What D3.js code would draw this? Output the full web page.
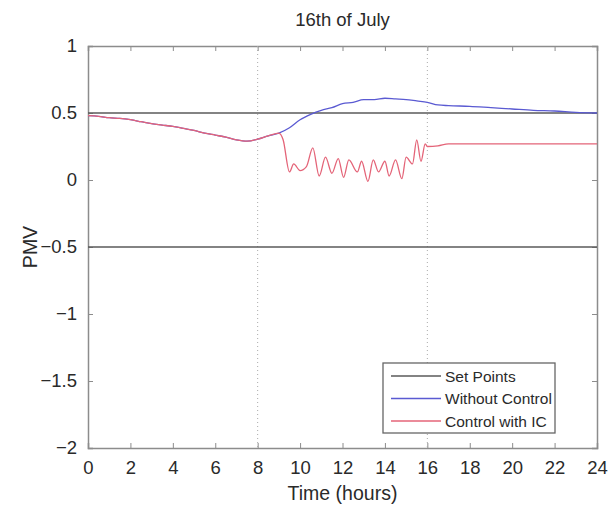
<!DOCTYPE html>
<html lang="en">
<head>
    <meta charset="UTF-8">
    <title>16th of July</title>
    <style>
        body {
            margin: 0;
            background: #fff;
            font-family: "Liberation Sans", Arial, sans-serif;
        }
        .axis text {
            font-size: 18.5px;
            fill: #2a2a2a;
        }
        .axis path, .axis line {
            stroke: #8c8c8c;
        }
    </style>
</head>
<body>
    <div id="chart"></div>
    <script src="https://d3js.org/d3.v7.min.js"></script>
    <script>
        // Control with IC (red)
        const icTime = [0, 0.5, 1, 1.5, 2, 2.5, 3, 3.5, 4, 4.5, 5, 5.5, 6, 6.5, 7, 7.5, 8, 8.5, 9, 9.2,
            9.5, 9.7, 10, 10.3, 10.6, 10.9, 11.2, 11.5, 11.8, 12.05, 12.3, 12.7, 12.9, 13.2, 13.45, 13.7,
            14, 14.2, 14.5, 14.8, 15, 15.3, 15.5, 15.7, 15.9, 16, 16.5, 17, 18, 20, 22, 24];
        const icPmv = [0.48, 0.475, 0.465, 0.46, 0.45, 0.435, 0.42, 0.41, 0.40, 0.385, 0.37, 0.35, 0.335, 0.32, 0.30, 0.29, 0.305, 0.33, 0.35, 0.30,
            0.06, 0.12, 0.07, 0.10, 0.24, 0.03, 0.17, 0.05, 0.16, 0.02, 0.15, 0.06, 0.14, -0.01, 0.15, 0.06,
            0.14, 0.03, 0.15, 0.01, 0.17, 0.12, 0.30, 0.14, 0.27, 0.25, 0.255, 0.27, 0.27, 0.27, 0.27, 0.27];

        // Without Control (blue)
        const ncTime = [0, 0.5, 1, 1.5, 2, 2.5, 3, 3.5, 4, 4.5, 5, 5.5, 6, 6.5, 7, 7.5, 8, 8.5, 9, 9.5,
            10, 10.5, 11, 11.5, 12, 12.5, 13, 13.5, 14, 14.5, 15, 15.5, 16, 16.5, 17, 18, 19, 20, 21, 22, 23, 24];
        const ncPmv = [0.48, 0.475, 0.465, 0.46, 0.45, 0.435, 0.42, 0.41, 0.40, 0.385, 0.37, 0.35, 0.335, 0.32, 0.30, 0.29, 0.305, 0.33, 0.35, 0.39,
            0.45, 0.49, 0.52, 0.54, 0.57, 0.58, 0.60, 0.60, 0.61, 0.605, 0.60, 0.59, 0.58, 0.56, 0.555, 0.55, 0.54, 0.53, 0.52, 0.515, 0.505, 0.50];

        const setPoints = [0.5, -0.5];
        const markHours = [8, 16];
        const xTicks = d3.range(0, 25, 2);
        const yTicks = [-2, -1.5, -1, -0.5, 0, 0.5, 1];
        const legendNames = ["Set Points", "Without Control", "Control with IC"];
        const legendColors = ["#5a5a5a", "#5a5ad2", "#e46478"];

        const width = 608, height = 509;
        const margin = { top: 46, right: 11, bottom: 61, left: 88 };

        const svg = d3.select("#chart").append("svg")
            .attr("width", width)
            .attr("height", height);

        const x = d3.scaleLinear().domain([0, 24]).range([margin.left, width - margin.right]);
        const y = d3.scaleLinear().domain([-2, 1]).range([height - margin.bottom, margin.top]);

        const fmt = d => (d < 0 ? "\u2212" + Math.abs(d) : String(d));

        // axes, ticks pointing inward
        svg.append("g").attr("class", "axis")
            .attr("transform", `translate(0,${y(-2)})`)
            .call(d3.axisBottom(x).tickValues(xTicks).tickSize(-5).tickPadding(13).tickFormat(fmt));
        svg.append("g").attr("class", "axis")
            .attr("transform", `translate(0,${y(1)})`)
            .call(d3.axisTop(x).tickValues(xTicks).tickSize(-5).tickFormat(""));
        svg.append("g").attr("class", "axis")
            .attr("transform", `translate(${x(0)},0)`)
            .call(d3.axisLeft(y).tickValues(yTicks).tickSize(-5).tickPadding(11).tickFormat(fmt));
        svg.append("g").attr("class", "axis")
            .attr("transform", `translate(${x(24)},0)`)
            .call(d3.axisRight(y).tickValues(yTicks).tickSize(-5).tickFormat(""));
        svg.selectAll(".axis .domain").attr("stroke-width", 1.5);

        // dotted markers at 8h and 16h
        svg.selectAll(".mark").data(markHours).enter().append("line")
            .attr("x1", d => x(d)).attr("x2", d => x(d))
            .attr("y1", y(1)).attr("y2", y(-2))
            .attr("stroke", "#aaa").attr("stroke-dasharray", "1,3");

        // set points
        svg.selectAll(".sp").data(setPoints).enter().append("line")
            .attr("x1", x(0)).attr("x2", x(24))
            .attr("y1", d => y(d)).attr("y2", d => y(d))
            .attr("stroke", legendColors[0]).attr("stroke-width", 1.3);

        const line = d3.line().x(d => x(d[0])).y(d => y(d[1])).curve(d3.curveMonotoneX);

        svg.append("path")
            .datum(d3.zip(ncTime, ncPmv))
            .attr("fill", "none").attr("stroke", legendColors[1]).attr("stroke-width", 1.3)
            .attr("d", line);
        svg.append("path")
            .datum(d3.zip(icTime, icPmv))
            .attr("fill", "none").attr("stroke", legendColors[2]).attr("stroke-width", 1.3)
            .attr("d", line);

        // title and axis labels
        svg.append("text").attr("x", x(12)).attr("y", 26)
            .attr("text-anchor", "middle").attr("font-size", 18.5).attr("fill", "#2a2a2a")
            .text("16th of July");
        svg.append("text").attr("x", x(12)).attr("y", 500)
            .attr("text-anchor", "middle").attr("font-size", 19.5).attr("fill", "#2a2a2a")
            .text("Time (hours)");
        svg.append("text")
            .attr("transform", `translate(37,${y(-0.5)}) rotate(-90)`)
            .attr("text-anchor", "middle").attr("font-size", 19.5).attr("fill", "#2a2a2a")
            .text("PMV");

        // legend
        const lg = svg.append("g").attr("transform", "translate(383,363)");
        lg.append("rect").attr("width", 172).attr("height", 70)
            .attr("fill", "#fff").attr("stroke", "#666").attr("stroke-width", 1.3);
        legendNames.forEach((name, i) => {
            const cy = 13 + i * 22.5;
            lg.append("line").attr("x1", 8).attr("x2", 58).attr("y1", cy).attr("y2", cy)
                .attr("stroke", legendColors[i]).attr("stroke-width", 1.3);
            lg.append("text").attr("x", 62).attr("y", cy + 5.5)
                .attr("font-size", 15.5).attr("fill", "#2a2a2a").text(name);
        });
    </script>
</body>
</html>
